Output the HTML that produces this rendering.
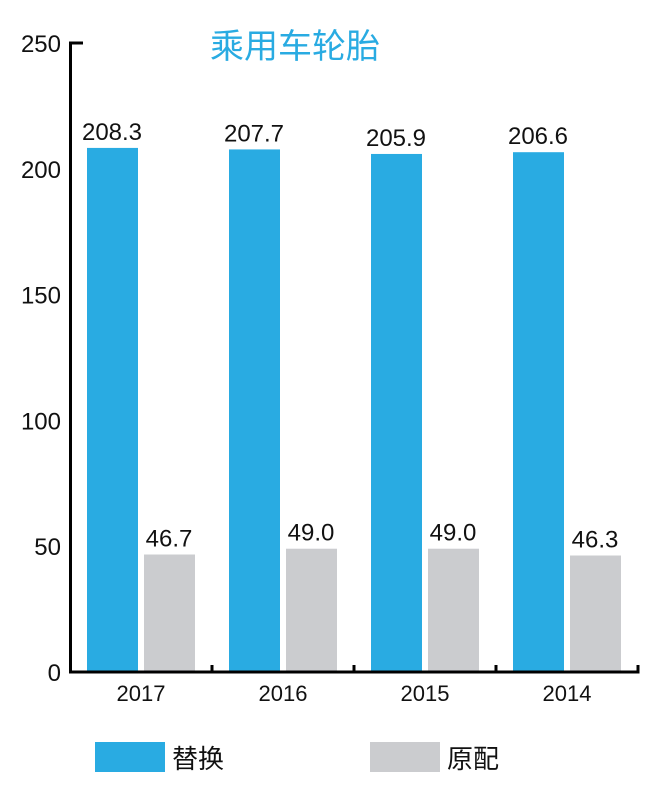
<!DOCTYPE html>
<html><head><meta charset="utf-8"><style>
body{margin:0;background:#fff;}
svg{display:block;font-family:"Liberation Sans","Noto Sans CJK SC",sans-serif;}
</style></head><body>
<svg id="c" width="660" height="796">
<text x="295" y="58" text-anchor="middle" font-size="34" fill="#29abe2">乘用车轮胎</text>
<g id="g"></g>
<rect x="95" y="742" width="70" height="30" fill="#29abe2"/>
<text x="172" y="768" font-size="26" fill="#111">替换</text>
<rect x="370" y="742" width="70" height="30" fill="#cbcccf"/>
<text x="447" y="768" font-size="26" fill="#111">原配</text>
</svg>
<script>
const categories=["2017","2016","2015","2014"];
const replacement=[208.3,207.7,205.9,206.6];
const original=[46.7,49.0,49.0,46.3];
const yTicks=[0,50,100,150,200,250];
const NS="http://www.w3.org/2000/svg";
const g=document.getElementById('g');
const x0=70,cw=142,yBase=672,yMax=250,ph=629;
const y=v=>yBase-v/yMax*ph;
function el(t,a,txt){const e=document.createElementNS(NS,t);for(const k in a)e.setAttribute(k,a[k]);if(txt!=null)e.textContent=txt;g.appendChild(e);return e;}
categories.forEach((c,i)=>{
 const cx=x0+i*cw;
 let b=el('rect',{x:cx+17,y:y(replacement[i]),width:51,height:yBase-y(replacement[i]),fill:'#29abe2'});
 
 
 let t=el('text',{x:cx+42,y:y(replacement[i])-8,'text-anchor':'middle','font-size':24,fill:'#111'},replacement[i].toFixed(1));
 
 
 let b2=el('rect',{x:cx+74,y:y(original[i]),width:51,height:yBase-y(original[i]),fill:'#cbcccf'});
 
 
 let t2=el('text',{x:cx+99,y:y(original[i])-8,'text-anchor':'middle','font-size':24,fill:'#111'},original[i].toFixed(1));
 
 
 let xl=el('text',{x:cx+71,y:701,'text-anchor':'middle','font-size':22,fill:'#111'},c);
 
 
 let tk=el('line',{x1:cx+cw,x2:cx+cw,y1:yBase,y2:yBase-7,stroke:'#000','stroke-width':3});
 
 
});
yTicks.forEach(v=>{
 let t=el('text',{x:61,y:y(v)+9,'text-anchor':'end','font-size':24,fill:'#111'},String(v));
 
 
});
let ya=el('path',{d:`M83 ${y(250)} H70.5 V${yBase}`,fill:'none',stroke:'#000','stroke-width':3});


let xa=el('line',{x1:69,x2:x0+4*cw+1.5,y1:yBase,y2:yBase,stroke:'#000','stroke-width':3});


</script>
</body></html>
